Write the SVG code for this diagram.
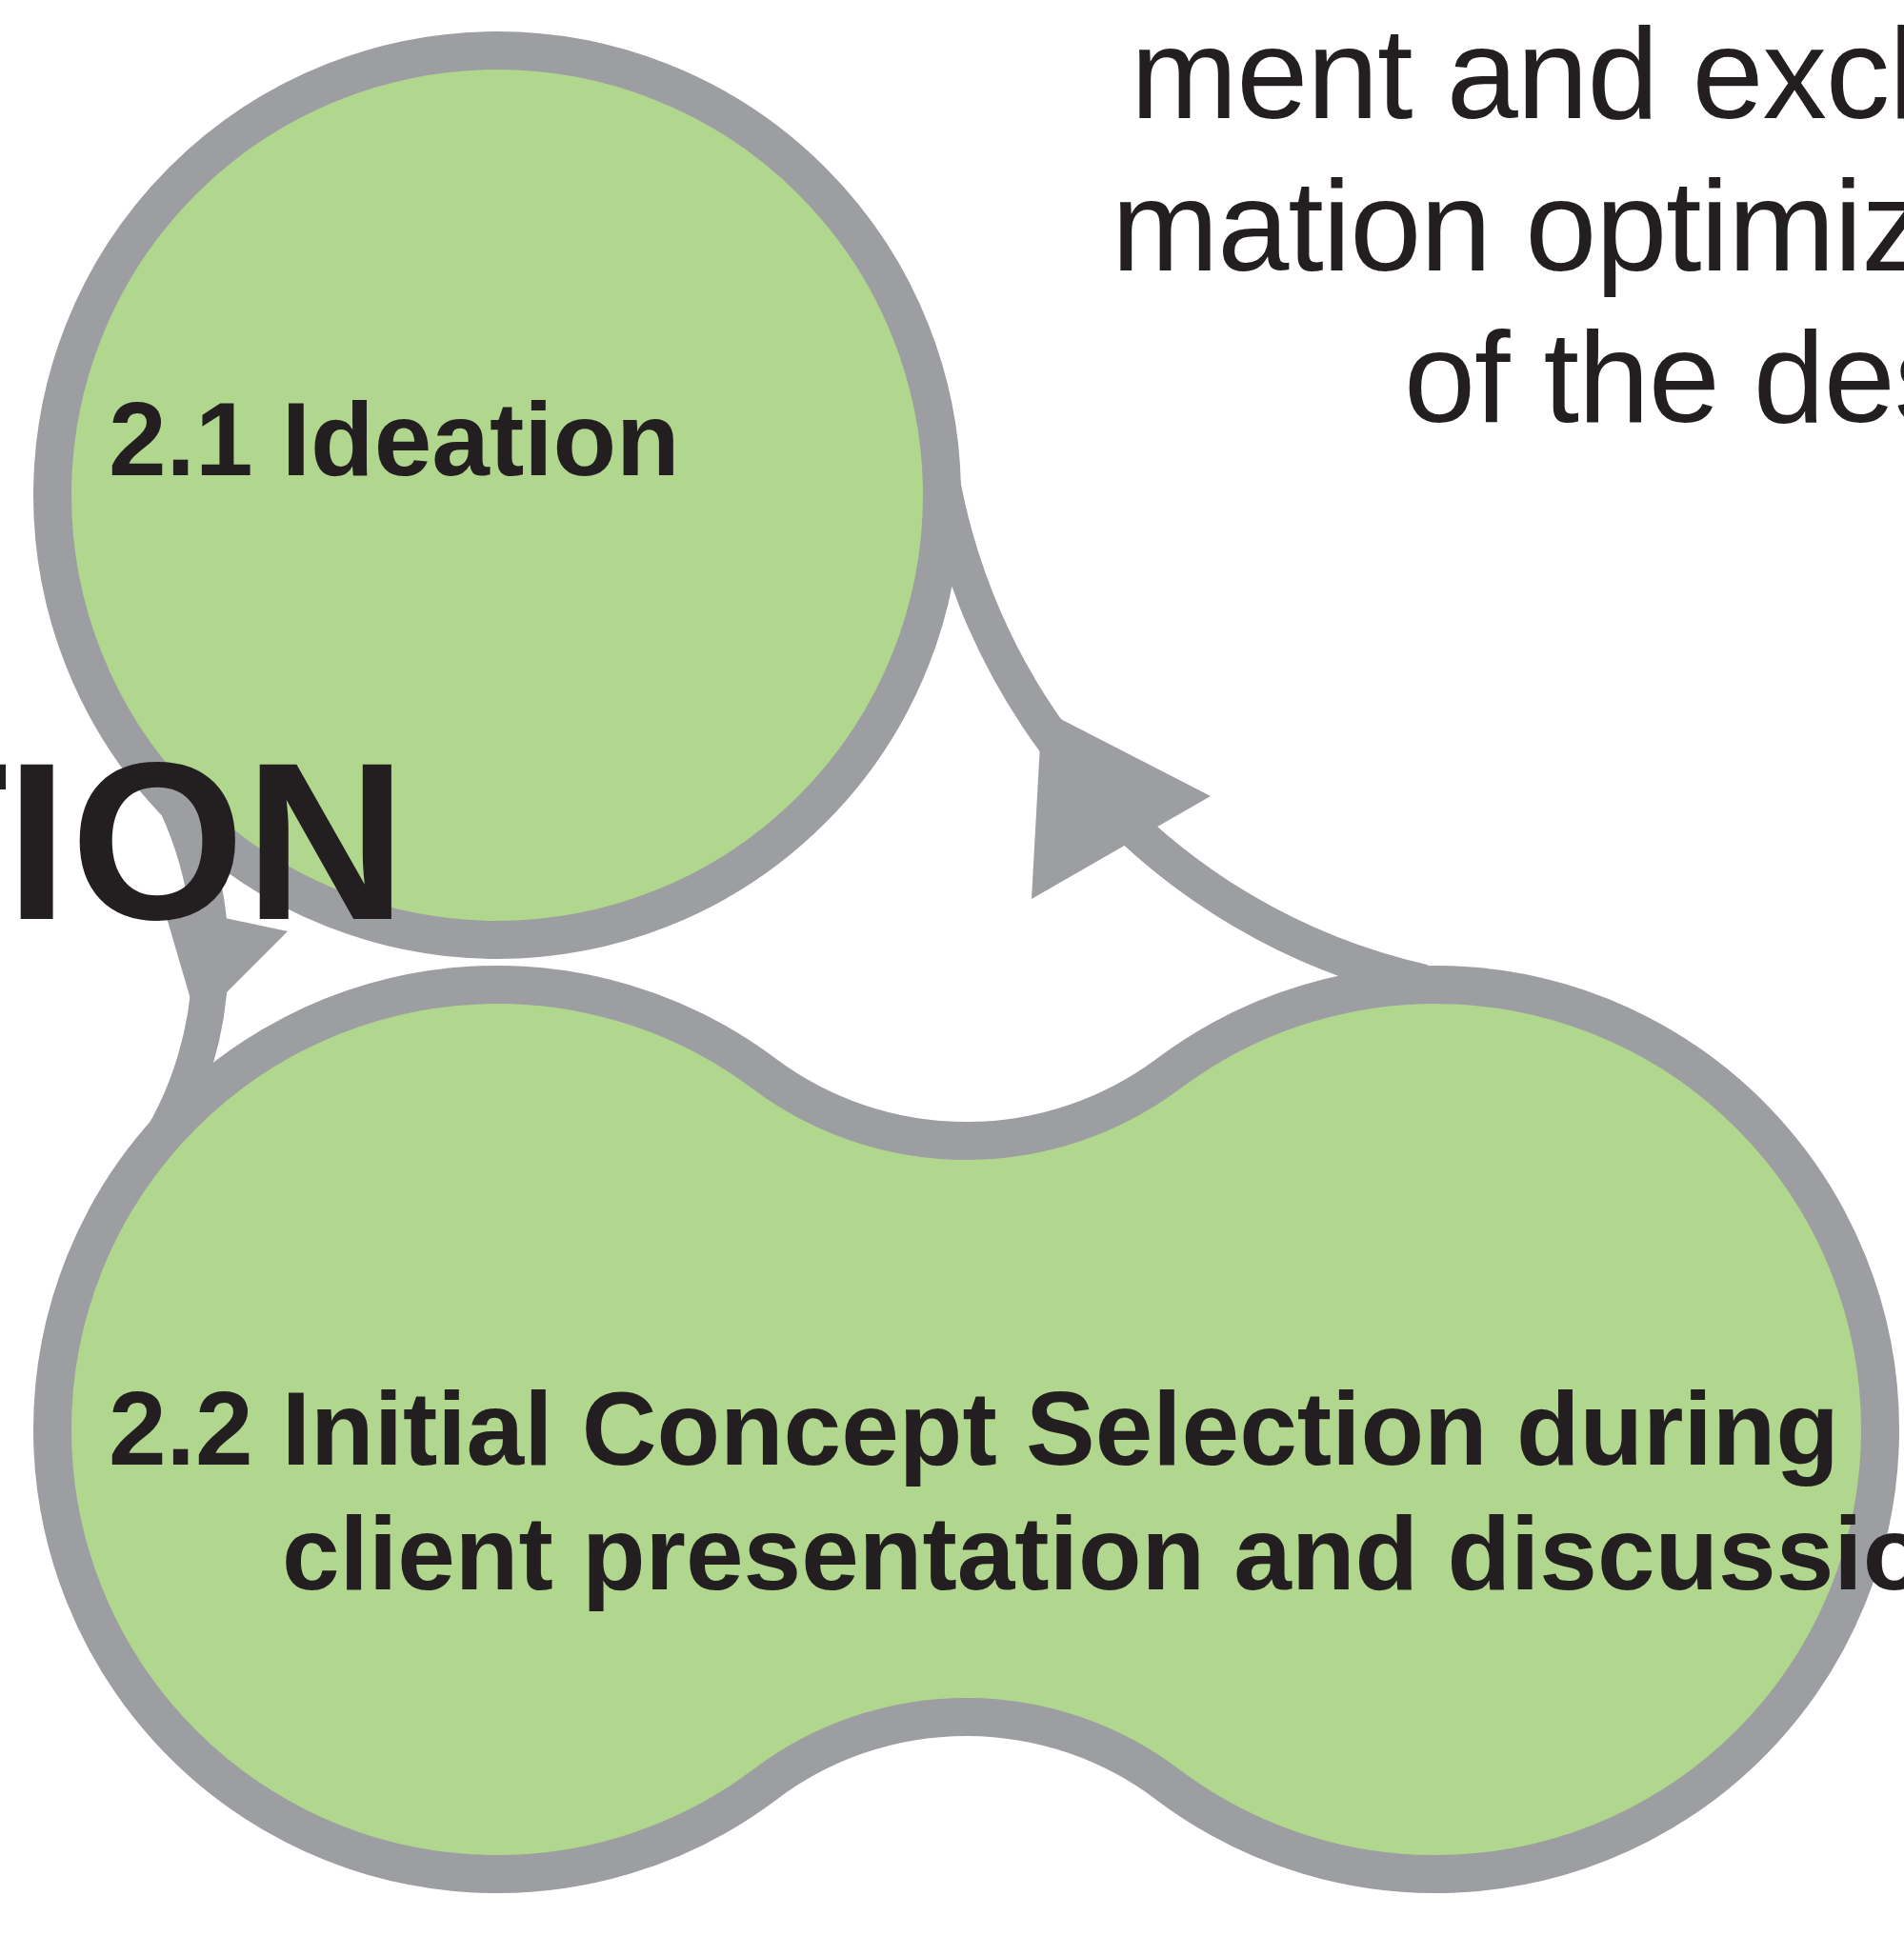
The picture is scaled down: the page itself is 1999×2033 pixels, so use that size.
<svg xmlns="http://www.w3.org/2000/svg" width="1999" height="2033" viewBox="0 0 1999 2033">
<style>
.node{fill:#b1d68e;stroke:#9d9ea2;stroke-width:40;stroke-linejoin:miter;stroke-miterlimit:10}
.conn{fill:none;stroke:#9d9ea2;stroke-width:38;stroke-linecap:butt}
.head{fill:#9d9ea2}
.lbl{font-family:"Liberation Sans",Arial,Helvetica,sans-serif;font-weight:700;font-size:109px;fill:#231f20}
.big{font-family:"Liberation Sans",Arial,Helvetica,sans-serif;font-weight:700;font-size:235px;fill:#231f20}
.body{font-family:"Liberation Sans",Arial,Helvetica,sans-serif;font-weight:400;font-size:135px;letter-spacing:-1.2px;fill:#231f20}
</style>
<rect width="1999" height="2033" fill="#ffffff"/>
<g id="connectors">
<path id="c-2-2-to-2-1" class="conn" d="M979.5,428.9 A663,663 0 0 0 1495,1031.7"/>
<polygon class="head" points="1094,745 1271,836 1083,944"/>
<path id="c-2-1-to-2-2" class="conn" d="M139.3,770 A379,379 0 0 1 154,1220"/>
<polygon class="head" points="171,950 302,978 207,1073"/>
</g>
<g id="node-2-1">
<circle class="node" cx="522" cy="520" r="467"/>
<text class="lbl" x="114" y="499">2.1 Ideation</text>
</g>
<g id="node-2-2">
<path class="node" d="M803,1128 A354.5,354.5 0 0 0 1226,1128 A467,467 0 1 1 1226,1874 A350.5,350.5 0 0 0 803,1874 A467,467 0 1 1 803,1128 Z"/>
<text class="lbl" x="114" y="1538">2.2 Initial Concept Selection during</text>
<text class="lbl" x="296" y="1669">client presentation and discussion</text>
</g>
<g id="title">
<text class="big" x="-135 6 74 257" y="965">TION</text>
</g>
<g id="description">
<text class="body" x="1187" y="124">ment and exch</text>
<text class="body" x="1167" y="284">mation optimiz</text>
<text class="body" x="1474" y="443">of the des</text>
</g>
</svg>
